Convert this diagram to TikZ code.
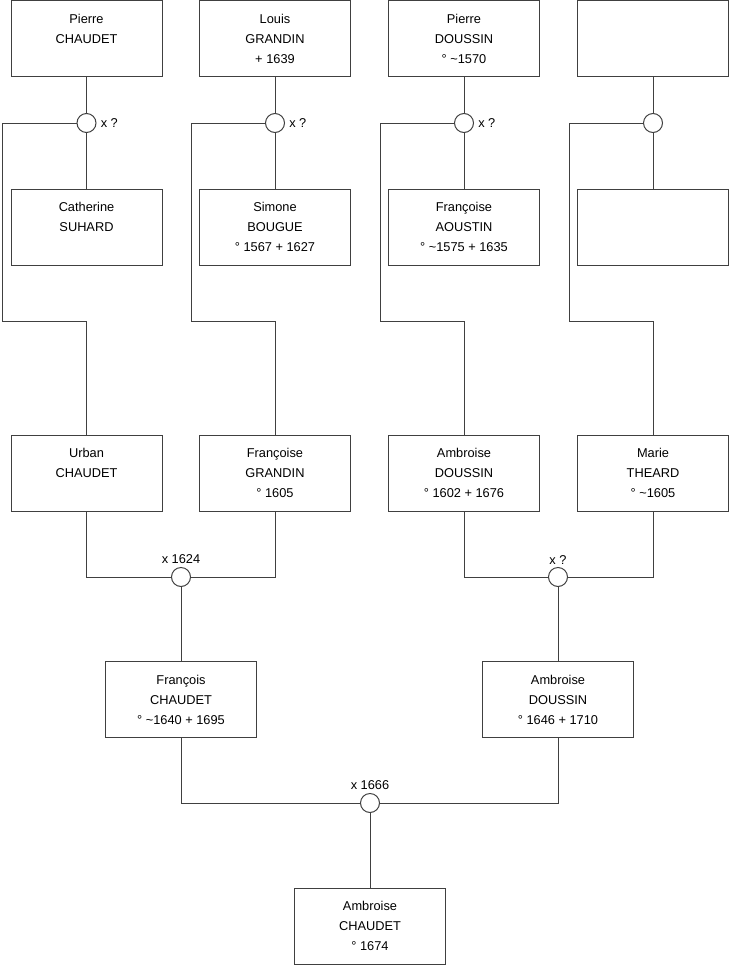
\documentclass[tikz,border=0pt]{standalone}
\usepackage{fontspec}
\setmainfont{Liberation Sans}
\usetikzlibrary{positioning}

\begin{document}
\begin{tikzpicture}[x=0.75pt, y=-0.75pt,
      person/.style={draw=black!75, line width=0.75pt, minimum width=113.25pt,
        minimum height=57pt, align=center, inner sep=0pt,
        font=\fontsize{9.6}{15}\selectfont,
        execute at end node={\\[-8pt]\mbox{}}},
      wed/.style={circle, draw=black!75, fill=white, line width=0.75pt,
        minimum size=14.25pt, inner sep=0pt},
      link/.style={draw=black!75, line width=0.75pt},
      lbl/.style={font=\fontsize{9.6}{11}\selectfont, inner sep=1pt}
    ]
    \useasboundingbox (0,0) rectangle (740,975);

    % ══ GENERATION 1: top row ═════════════════════════════════════════════════
    \node[person] (pchaudet) at (86.5,38.5) {Pierre\\CHAUDET\\\mbox{}};
    \node[person] (lgrandin) at (275,38.5) {Louis\\GRANDIN\\+ 1639};
    \node[person] (pdoussin) at (464,38.5) {Pierre\\DOUSSIN\\° \textasciitilde1570};
    \node[person] (nobody1) at (653,38.5) {\mbox{}\\\mbox{}\\\mbox{}};

    % marriages
    \node[wed] (m1) at (86.5,123) {};
    \node[wed] (m2) at (275,123) {};
    \node[wed] (m3) at (464,123) {};
    \node[wed] (m4) at (653,123) {};
    \node[lbl, right=2pt of m1] (x1) {x ?};
    \node[lbl, right=2pt of m2] (x2) {x ?};
    \node[lbl, right=2pt of m3] (x3) {x ?};

    % spouses
    \node[person] (csuhard) at (86.5,227) {Catherine\\SUHARD\\\mbox{}};
    \node[person] (sbougue) at (275,227) {Simone\\BOUGUE\\° 1567 + 1627};
    \node[person] (faoustin) at (464,227) {Françoise\\AOUSTIN\\° \textasciitilde1575 + 1635};
    \node[person] (nobody2) at (653,227) {\mbox{}\\\mbox{}\\\mbox{}};

    \foreach \h/\m/\w in {pchaudet/m1/csuhard, lgrandin/m2/sbougue,
                          pdoussin/m3/faoustin, nobody1/m4/nobody2} {
      \draw[link] (\h.south) -- (\m.north);
      \draw[link] (\m.south) -- (\w.north);
    }

    % ══ GENERATION 2 ══════════════════════════════════════════════════════════
    \node[person] (uchaudet) at (86.5,473) {Urban\\CHAUDET\\\mbox{}};
    \node[person] (fgrandin) at (275,473) {Françoise\\GRANDIN\\° 1605};
    \node[person] (adoussin) at (464,473) {Ambroise\\DOUSSIN\\° 1602 + 1676};
    \node[person] (mtheard) at (653,473) {Marie\\THEARD\\° \textasciitilde1605};

    % descent from the top marriages
    \coordinate (c1) at (2,321);
    \coordinate (c2) at (191,321);
    \coordinate (c3) at (380,321);
    \coordinate (c4) at (569,321);
    \draw[link] (m1.west) -| (c1) -| (uchaudet.north);
    \draw[link] (m2.west) -| (c2) -| (fgrandin.north);
    \draw[link] (m3.west) -| (c3) -| (adoussin.north);
    \draw[link] (m4.west) -| (c4) -| (mtheard.north);

    % marriages
    \node[wed] (m5) at (181,577) {};
    \node[wed] (m6) at (558,577) {};
    \node[lbl, above=1pt of m5] (x5) {x 1624};
    \node[lbl, above=1pt of m6] (x6) {x ?};
    \draw[link] (uchaudet.south) |- (m5.west);
    \draw[link] (fgrandin.south) |- (m5.east);
    \draw[link] (adoussin.south) |- (m6.west);
    \draw[link] (mtheard.south) |- (m6.east);

    % ══ GENERATION 3 ══════════════════════════════════════════════════════════
    \node[person] (fchaudet) at (181,699.5) {François\\CHAUDET\\° \textasciitilde1640 + 1695};
    \node[person] (adoussin2) at (558,699.5) {Ambroise\\DOUSSIN\\° 1646 + 1710};
    \draw[link] (m5.south) -- (fchaudet.north);
    \draw[link] (m6.south) -- (adoussin2.north);

    \node[wed] (m7) at (370,803) {};
    \node[lbl, above=1pt of m7] (x7) {x 1666};
    \draw[link] (fchaudet.south) |- (m7.west);
    \draw[link] (adoussin2.south) |- (m7.east);

    % ══ GENERATION 4 ══════════════════════════════════════════════════════════
    \node[person] (achaudet) at (370,926) {Ambroise\\CHAUDET\\° 1674};
    \draw[link] (m7.south) -- (achaudet.north);

  \end{tikzpicture}
\end{document}
